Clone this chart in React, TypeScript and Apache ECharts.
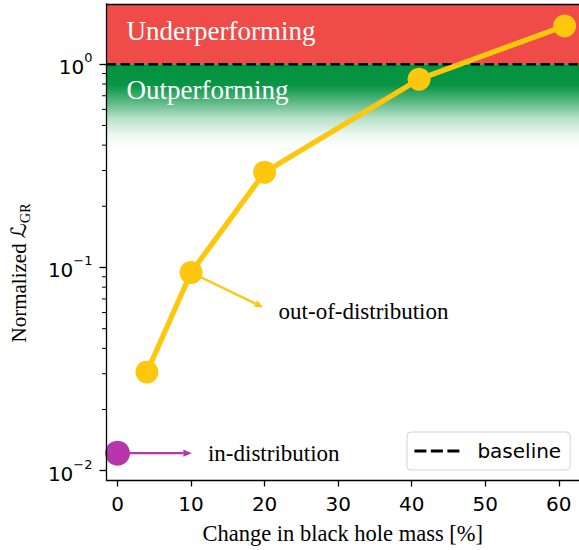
import React, { useEffect, useRef } from 'react';
import * as echarts from 'echarts';

// ---- axis definitions ----
const xTicks = [0, 10, 20, 30, 40, 50, 60];
const xRange = [-1.5, 62.75];
const yTicks = [0.01, 0.1, 1];
const yMinorTicks = [0.02, 0.03, 0.04, 0.05, 0.06, 0.07, 0.08, 0.09, 0.2, 0.3, 0.4, 0.5, 0.6, 0.7, 0.8, 0.9];
const yRange = [0.009, 1.98];

// ---- data ----
const oodX = [4, 10, 20, 41, 60.8];
const oodY = [0.0306, 0.0945, 0.294, 0.844, 1.545];
const inDistX = [0];
const inDistY = [0.0122];
const baselineValue = 1;

// ---- shaded bands ----
const bandNames = ['Underperforming', 'Outperforming'];
const bandLow = [1, 0.39];
const bandHigh = [1.98, 1];

// ---- annotations ----
const annotationTexts = ['out-of-distribution', 'in-distribution'];
const arrowFrom = [[10, 0.0945], [0, 0.0122]];
const arrowTo = [[19.8, 0.0637], [10.1, 0.0122]];
const textAt = [[21.9, 0.0607], [12.3, 0.0122]];

const RED = '#EF4B48';
const ORANGE = '#FCC70C';
const PURPLE = '#B536AD';
const annotationColors = [ORANGE, PURPLE];

const SERIF = '"Liberation Serif", "DejaVu Serif", serif';
const SANS = '"DejaVu Sans", sans-serif';

export default function App() {
  const ref = useRef<HTMLDivElement>(null);

  useEffect(() => {
    if (!ref.current) return;
    const chart = echarts.init(ref.current, null, { renderer: 'svg' });

    const greenGrad = new echarts.graphic.LinearGradient(0, 0, 0, 1, [
      { offset: 0, color: 'rgba(0,146,63,1)' },
      { offset: 0.25, color: 'rgba(0,146,63,0.97)' },
      { offset: 0.45, color: 'rgba(0,146,63,0.65)' },
      { offset: 0.65, color: 'rgba(0,146,63,0.28)' },
      { offset: 0.85, color: 'rgba(0,146,63,0.07)' },
      { offset: 1, color: 'rgba(0,146,63,0)' },
    ]);
    const bandColors = [RED, greenGrad];
    const bandLabelPos = [[20, 13], [20, 12]];

    const annotationData = arrowFrom.map((f, i) => [
      f[0], f[1], arrowTo[i][0], arrowTo[i][1], textAt[i][0], textAt[i][1],
    ]);

    const option: any = {
      animation: false,
      grid: { left: 104, top: 4, right: -9, bottom: 67.5 },
      legend: {
        data: [{ name: 'baseline', itemStyle: { opacity: 0, color: 'rgba(0,0,0,0)', borderWidth: 0 } }],
        left: 407,
        top: 432,
        padding: [9, 9, 9, 6],
        itemWidth: 45,
        itemHeight: 20,
        backgroundColor: 'rgba(255,255,255,0.85)',
        borderColor: '#d3d3d3',
        borderWidth: 1,
        borderRadius: 4,
        itemStyle: { opacity: 0, color: 'rgba(0,0,0,0)', borderWidth: 0 },
        lineStyle: { color: '#000', width: 2.8, type: [12, 4.5] },
        textStyle: { fontFamily: SANS, fontSize: 20, color: '#000', padding: [0, 0, 0, 13] },
        selectedMode: false,
      },
      xAxis: [
        {
          type: 'value',
          min: xRange[0],
          max: xRange[1],
          z: 4,
          name: 'Change in black hole mass [%]',
          nameLocation: 'middle',
          nameGap: 42,
          nameTextStyle: { fontFamily: SERIF, fontSize: 22.5, color: '#000' },
          splitLine: { show: false },
          axisLine: { show: true, onZero: false, lineStyle: { color: '#000', width: 1.3 } },
          axisTick: { show: true, length: 6.5, customValues: xTicks, lineStyle: { color: '#000', width: 1.3 } },
          axisLabel: {
            customValues: xTicks,
            margin: 14,
            fontFamily: SANS,
            fontSize: 20,
            color: '#000',
          },
        },
        {
          type: 'value',
          position: 'top',
          min: xRange[0],
          max: xRange[1],
          z: 4,
          splitLine: { show: false },
          axisLine: { show: true, onZero: false, lineStyle: { color: '#000', width: 1.3 } },
          axisTick: { show: false },
          axisLabel: { show: false },
        },
      ],
      yAxis: {
        type: 'log',
        logBase: 10,
        min: yRange[0],
        max: yRange[1],
        z: 4,
        name: '{n|Normalized }{l|ℒ}{g|GR}',
        nameLocation: 'middle',
        nameGap: 74,
        nameTextStyle: {
          padding: [0, 62, 0, 0],
          rich: {
            n: { fontFamily: SERIF, fontSize: 21, color: '#000', lineHeight: 28 },
            l: { fontFamily: '"DejaVu Serif", "DejaVu Sans", serif', fontStyle: 'italic', fontSize: 21, color: '#000', lineHeight: 28 },
            g: { fontFamily: SERIF, fontSize: 14, color: '#000', lineHeight: 14, verticalAlign: 'bottom' },
          },
        },
        splitLine: { show: false },
        minorTick: { show: false },
        axisLine: { show: true, onZero: false, lineStyle: { color: '#000', width: 1.3 } },
        axisTick: { show: true, length: 7, customValues: yTicks, lineStyle: { color: '#000', width: 1.3 } },
        axisLabel: {
          customValues: yTicks,
          margin: 14,
          formatter: (v: number) => {
            const e = Math.round(Math.log10(v));
            const s = e < 0 ? '\u2212' + -e : String(e);
            return '{b|10}{s|' + s + '}';
          },
          rich: {
            b: { fontFamily: SANS, fontSize: 20, color: '#000', lineHeight: 26, verticalAlign: 'bottom' },
            s: { fontFamily: SANS, fontSize: 13, color: '#000', lineHeight: 13, verticalAlign: 'top' },
          },
        },
      },
      series: [
        {
          name: 'baseline',
          type: 'line',
          z: 2,
          symbol: 'none',
          silent: true,
          data: [[xRange[0], baselineValue], [xRange[1], baselineValue]],
          lineStyle: { color: '#000', width: 2.6, type: [9.5, 4.5] },
          itemStyle: { color: '#000' },
          markArea: {
            silent: true,
            data: bandNames.map((nm, i) => [
              {
                name: nm,
                xAxis: xRange[0],
                yAxis: bandLow[i],
                itemStyle: { color: bandColors[i], opacity: 1 },
                label: {
                  show: true,
                  position: bandLabelPos[i],
                  color: '#fff',
                  fontFamily: SERIF,
                  fontSize: 27,
                },
              },
              { xAxis: xRange[1], yAxis: bandHigh[i] },
            ]),
          },
        },
        {
          name: 'ood',
          type: 'line',
          z: 3,
          data: oodX.map((x, i) => [x, oodY[i]]),
          symbol: 'circle',
          symbolSize: 23,
          showSymbol: true,
          lineStyle: { color: ORANGE, width: 5.3 },
          itemStyle: { color: ORANGE },
        },
        {
          name: 'in',
          type: 'scatter',
          z: 3,
          data: inDistX.map((x, i) => [x, inDistY[i]]),
          symbol: 'circle',
          symbolSize: 25,
          itemStyle: { color: PURPLE, opacity: 1 },
        },
        {
          name: 'annotations',
          type: 'custom',
          z: 3,
          silent: true,
          data: annotationData,
          encode: { x: [0, 2, 4], y: [1, 3, 5] },
          renderItem: (params: any, api: any) => {
            const i = params.dataIndex;
            const p0 = api.coord([api.value(0), api.value(1)]);
            const p1 = api.coord([api.value(2), api.value(3)]);
            const pt = api.coord([api.value(4), api.value(5)]);
            const dx = p1[0] - p0[0];
            const dy = p1[1] - p0[1];
            const len = Math.sqrt(dx * dx + dy * dy) || 1;
            const ux = dx / len;
            const uy = dy / len;
            const hl = 8.5;
            const hw = 3.6;
            const bx = p1[0] - ux * hl;
            const by = p1[1] - uy * hl;
            const col = annotationColors[i];
            return {
              type: 'group',
              children: [
                {
                  type: 'line',
                  shape: { x1: p0[0], y1: p0[1], x2: bx, y2: by },
                  style: { stroke: col, lineWidth: 2.3 },
                },
                {
                  type: 'polygon',
                  shape: {
                    points: [
                      [p1[0], p1[1]],
                      [bx - uy * hw, by + ux * hw],
                      [bx + uy * hw, by - ux * hw],
                    ],
                  },
                  style: { fill: col },
                },
                {
                  type: 'text',
                  style: {
                    text: annotationTexts[i],
                    x: pt[0],
                    y: pt[1],
                    fill: '#000',
                    font: '23px ' + SERIF,
                    align: 'left',
                    verticalAlign: 'middle',
                  },
                },
              ],
            };
          },
        },
        {
          name: 'minorTicks',
          type: 'custom',
          z: 4,
          silent: true,
          clip: false,
          data: yMinorTicks.map((v) => [xRange[0], v]),
          encode: { x: 0, y: 1 },
          renderItem: (params: any, api: any) => {
            const p = api.coord([api.value(0), api.value(1)]);
            return {
              type: 'line',
              shape: { x1: p[0] - 4.5, y1: p[1], x2: p[0], y2: p[1] },
              style: { stroke: '#000', lineWidth: 1 },
            };
          },
        },
      ],
    };

    chart.setOption(option);
    return () => chart.dispose();
  }, []);

  return (
    <div
      ref={ref}
      style={{ position: 'fixed', left: 0, top: 0, width: 579, height: 550, background: '#fff' }}
    />
  );
}
